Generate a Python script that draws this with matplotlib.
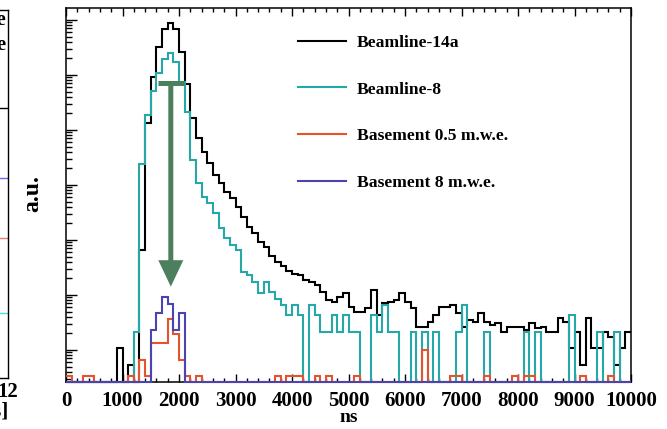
import numpy as np
import matplotlib
matplotlib.use("Agg")
import matplotlib.pyplot as plt
from matplotlib.ticker import LogLocator, NullFormatter, MultipleLocator

plt.rcParams['font.family'] = ['Liberation Serif', 'DejaVu Serif']
plt.rcParams['font.weight'] = 'bold'
plt.rcParams['mathtext.default'] = 'regular'

# 100 ns bins from 0 to 10 us
bin_edges = np.arange(0, 10001, 100)

beamline_14a = [
    0, 0, 0, 0, 0, 0, 0, 0, 0, 1.07,
    0, 0.53, 0, 65.8, 13240, 90800, 327000, 678000, 871000, 678000,
    265000, 67800, 16300, 7060, 4030, 2480, 1520, 1074, 755, 573,
    403, 265, 175, 132, 93, 75.5, 51.2, 39.8, 33.7, 27.3,
    24.1, 23.1, 18.7, 17.5, 15.2, 11.5, 8.1, 7.55, 9.3, 10.7,
    6.1, 5.0, 5.0, 5.7, 12.3, 4.3, 7.1, 7.55, 8.1, 10.7,
    7.55, 5.8, 2.6, 2.6, 3.2, 4.3, 6.1, 6.1, 6.6, 4.7,
    2.6, 3.5, 3.2, 4.7, 3.2, 2.85, 3.1, 2.1, 2.6, 2.6,
    2.6, 2.3, 3.1, 2.5, 2.6, 2.1, 2.1, 3.8, 3.2, 1.09,
    2.1, 0.53, 3.8, 1.09, 1.09, 2.1, 1.7, 0.53, 1.09, 2.1,
]

beamline_8 = [
    0, 0, 0, 0, 0, 0, 0, 0, 0, 0,
    0, 0, 2.15, 2380, 18750, 51900, 107400, 192800, 254200, 174600,
    75500, 21500, 2850, 1074, 612, 465, 306, 163, 107, 81,
    65.8, 26.5, 23.1, 17.5, 10.7, 17.5, 11.5, 8.6, 6.45, 4.3,
    6.45, 4.3, 0, 6.45, 4.3, 2.15, 2.15, 4.3, 2.15, 4.3,
    2.15, 2.15, 0, 0, 4.3, 2.15, 6.45, 2.15, 2.15, 0,
    0, 2.15, 0, 2.15, 0, 2.15, 0, 0, 0, 2.15,
    6.45, 0, 0, 0, 2.15, 0, 0, 0, 0, 0,
    0, 2.15, 0, 2.15, 0, 0, 0, 0, 0, 4.3,
    0, 0, 0, 0, 2.15, 0, 0, 2.15, 0, 0,
]

basement_05 = [
    0.33, 0, 0, 0.33, 0.33, 0, 0, 0, 0, 0,
    0, 0.33, 0, 0.66, 0.33, 1.32, 1.32, 1.32, 3.63, 1.98,
    0.66, 0.33, 0, 0.33, 0, 0, 0, 0, 0, 0,
    0, 0, 0, 0, 0, 0, 0, 0.33, 0, 0.33,
    0.33, 0.33, 0, 0, 0.33, 0, 0.33, 0, 0, 0,
    0, 0.33, 0, 0, 0, 0, 0, 0, 0, 0,
    0, 0, 0, 0.99, 0, 0, 0, 0, 0.33, 0.33,
    0, 0, 0, 0, 0.33, 0, 0, 0, 0, 0.33,
    0, 0.33, 0.33, 0, 0, 0, 0, 0, 0, 0,
    0, 0.33, 0, 0, 0, 0, 0.33, 0, 0, 0,
]

basement_8 = [0] * 15 + [2.31, 4.62, 9.24, 6.93, 2.31, 4.62] + [0] * 79

series = [beamline_14a, beamline_8, basement_05, basement_8]
series_labels = ["Beamline-14a", "Beamline-8", "Basement 0.5 m.w.e.", "Basement 8 m.w.e."]
series_colors = ["#000000", "#26a8a8", "#e4542c", "#4a43b0"]

x_ticks = np.arange(0, 10001, 1000)
y_min, y_max = 0.265, 1.63e6

# drop marker: bar across the peak, arrow down to the basement peak
arrow_x = 1855
arrow_bar_x = [1620, 2090]
arrow_top = 7.0e4
arrow_tip = 14.2
arrow_color = "#4b7f5d"

# right edge of the neighbouring panel
neighbor_levels = [0.543, 0.380, 0.177]
neighbor_colors = ["#6a68ee", "#ef7a7a", "#4fdede"]
neighbor_box_bottom = 0.7337
neighbor_ticks = [0, 2, 4, 6, 8, 10, 12]
neighbor_entries = ["Beamline-14a single-pe", "Beamline-8 single-pe"]

W, H = 667, 429
fig = plt.figure(figsize=(W / 100, H / 100), dpi=100)

ax = fig.add_axes([66 / W, 1 - 381.7 / H, 565 / W, 373.4 / H])

for vals, label, color in zip(series, series_labels, series_colors):
    v = np.asarray(vals, dtype=float)
    v = np.where(v > 0, v, y_min)
    ax.stairs(v, bin_edges, baseline=None, color=color, lw=1.5,
              label=label, clip_on=False, zorder=3)

ax.set_xlim(0, 10000)
ax.set_yscale('log')
ax.set_ylim(y_min, y_max)
ax.set_xticks(x_ticks)
ax.set_xticklabels([str(t) for t in x_ticks], fontweight='bold', fontsize=15)
ax.xaxis.set_minor_locator(MultipleLocator(200))
ax.yaxis.set_major_locator(LogLocator(base=10, numticks=20))
ax.yaxis.set_minor_locator(LogLocator(base=10, subs=np.arange(2, 10), numticks=20))
ax.yaxis.set_major_formatter(NullFormatter())
ax.yaxis.set_minor_formatter(NullFormatter())

ax.tick_params(axis='x', which='both', direction='in', top=True, bottom=True,
               pad=6.5, width=1)
ax.tick_params(axis='x', which='major', length=6)
ax.tick_params(axis='x', which='minor', length=3)
ax.tick_params(axis='y', which='both', direction='in', left=True, right=False, width=1)
ax.tick_params(axis='y', which='major', length=8)
ax.tick_params(axis='y', which='minor', length=4)
for s in ax.spines.values():
    s.set_linewidth(1.1)

ax.set_xlabel("ns", fontsize=14, fontweight='bold', labelpad=-1.5)
ax.set_ylabel("a.u.", fontsize=17, fontweight='bold')
ax.yaxis.set_label_coords(-0.04, 0.505)

# arrow
ax.plot(arrow_bar_x, [arrow_top, arrow_top], color=arrow_color, lw=3.6,
        solid_capstyle='butt', zorder=5)
ax.annotate("", xy=(arrow_x, arrow_tip), xytext=(arrow_x, arrow_top),
            arrowprops=dict(arrowstyle="simple,head_length=1.9,head_width=1.8,tail_width=0.36",
                            mutation_scale=10, fc=arrow_color, ec='none', lw=0,
                            shrinkA=0, shrinkB=0), zorder=5)

leg = ax.legend(loc='upper left', bbox_to_anchor=(0.41, 0.93), frameon=False,
                handlelength=2.75, handletextpad=0.65,
                labelspacing=1.75, borderpad=0, borderaxespad=0,
                prop={'weight': 'bold', 'size': 12.6})

# neighbouring panel (only its right edge falls inside the figure)
ax2 = fig.add_axes([-0.8, 1 - 378 / H, 0.8 + 8 / W, 368 / H])
ax2.set_xlim(0, 12)
ax2.set_ylim(0, 1)
for lvl, c in zip(neighbor_levels, neighbor_colors):
    ax2.plot([0, 12], [lvl, lvl], color=c, lw=1)
ax2.axhline(neighbor_box_bottom, color='black', lw=1)
ax2.set_xticks(neighbor_ticks)
ax2.set_xticklabels([str(t) for t in neighbor_ticks], fontweight='bold', fontsize=15)
ax2.set_yticks([])
ax2.tick_params(axis='x', length=0, pad=3)
for s in ax2.spines.values():
    s.set_linewidth(1)
ax2.set_xlabel("Time [\u03bcs]", fontsize=15, fontweight='bold', loc='right', labelpad=0)
for i, txt in enumerate(neighbor_entries):
    ax2.text(0.9963, 0.973 - i * 0.068, txt, transform=ax2.transAxes,
             ha='right', va='center', fontsize=15, fontweight='bold')

fig.savefig("out.png", dpi=100)
